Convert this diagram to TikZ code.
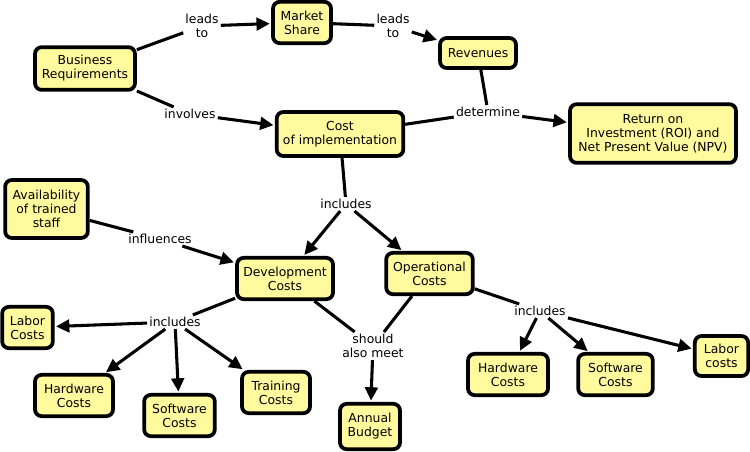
\documentclass[tikz,border=0pt]{standalone}
\usepackage{fontspec}
\setmainfont{DejaVu Sans}
\usetikzlibrary{arrows.meta}
\definecolor{boxfill}{RGB}{255,250,158}
\tikzset{
  concept/.style={draw=black, line width=2.8pt, rounded corners=5pt, fill=boxfill,
    align=center, inner sep=1pt, font=\fontsize{9.3}{10.5}\selectfont},
  phrase/.style={align=center, inner sep=1.5pt, font=\fontsize{9.3}{10.5}\selectfont},
  link/.style={line width=2.3pt},
  arr/.style={line width=2.3pt, -{Triangle[length=10pt,width=9.5pt]}, shorten >=1pt}
}
\begin{document}
\begin{tikzpicture}[x=0.75pt,y=-0.75pt]
\useasboundingbox (0,0) rectangle (750,451);
% concepts
\node[concept, minimum width=75pt, minimum height=32pt] (br) at (85,68.5) {Business\\Requirements};
\node[concept, minimum width=43.5pt, minimum height=31pt] (ms) at (302,22.5) {Market\\Share};
\node[concept, minimum width=57pt, minimum height=22.5pt] (rev) at (478,53) {Revenues};
\node[concept, minimum width=95pt, minimum height=33pt] (coi) at (340,134) {Cost\\of implementation};
\node[concept, minimum width=124.5pt, minimum height=44pt] (roi) at (653,133.5) {Return on\\Investment (ROI) and\\Net Present Value (NPV)};
\node[concept, minimum width=62pt, minimum height=43.5pt] (av) at (46.5,209) {Availability\\of trained\\staff};
\node[concept, minimum width=72pt, minimum height=31pt] (dev) at (285,278.5) {Development\\Costs};
\node[concept, minimum width=65pt, minimum height=31pt] (op) at (429.5,273.5) {Operational\\Costs};
\node[concept, minimum width=38pt, minimum height=31pt] (lab1) at (27.5,327.5) {Labor\\Costs};
\node[concept, minimum width=58.5pt, minimum height=31pt] (hw1) at (74,395.5) {Hardware\\Costs};
\node[concept, minimum width=53pt, minimum height=31pt] (sw1) at (179.5,415.5) {Software\\Costs};
\node[concept, minimum width=51pt, minimum height=31pt] (tr) at (276,392.5) {Training\\Costs};
\node[concept, minimum width=45pt, minimum height=34pt] (ab) at (370,426.5) {Annual\\Budget};
\node[concept, minimum width=60pt, minimum height=31pt] (hw2) at (508,374.5) {Hardware\\Costs};
\node[concept, minimum width=56pt, minimum height=31pt] (sw2) at (615.5,374.5) {Software\\Costs};
\node[concept, minimum width=40pt, minimum height=30pt] (lab2) at (721.5,356) {Labor\\costs};
% phrases
\node[phrase] (p1) at (202,26) {leads\\to};
\node[phrase] (p2) at (393,26) {leads\\to};
\node[phrase] (p3) at (190,114) {involves};
\node[phrase] (p4) at (488,112) {determine};
\node[phrase] (p5) at (346,204) {includes};
\node[phrase] (p6) at (160,239) {influences};
\node[phrase] (p7) at (175,322) {includes};
\node[phrase] (p8) at (373,346) {should\\also meet};
\node[phrase] (p9) at (540,311) {includes};
% connectors
\draw[link] (br) -- (p1);
\draw[arr] (p1) -- (ms);
\draw[link] (ms) -- (p2);
\draw[arr] (p2) -- (rev);
\draw[link] (br) -- (p3);
\draw[arr] (p3) -- (coi);
\draw[link] (coi) -- (p4);
\draw[link] (rev) -- (p4);
\draw[arr] (p4) -- (roi);
\draw[link] (coi) -- (p5);
\draw[arr] (p5) -- (dev);
\draw[arr] (p5) -- (op);
\draw[link] (av) -- (p6);
\draw[arr] (p6) -- (dev);
\draw[link] (dev) -- (p7);
\draw[arr] (p7) -- (lab1);
\draw[arr] (p7) -- (hw1);
\draw[arr] (p7) -- (sw1);
\draw[arr] (p7) -- (tr);
\draw[link] (dev) -- (p8);
\draw[link] (op) -- (p8);
\draw[arr] (p8) -- (ab);
\draw[link] (op) -- (p9);
\draw[arr] (p9) -- (hw2);
\draw[arr] (p9) -- (sw2);
\draw[arr] (p9) -- (lab2);
\end{tikzpicture}
\end{document}
